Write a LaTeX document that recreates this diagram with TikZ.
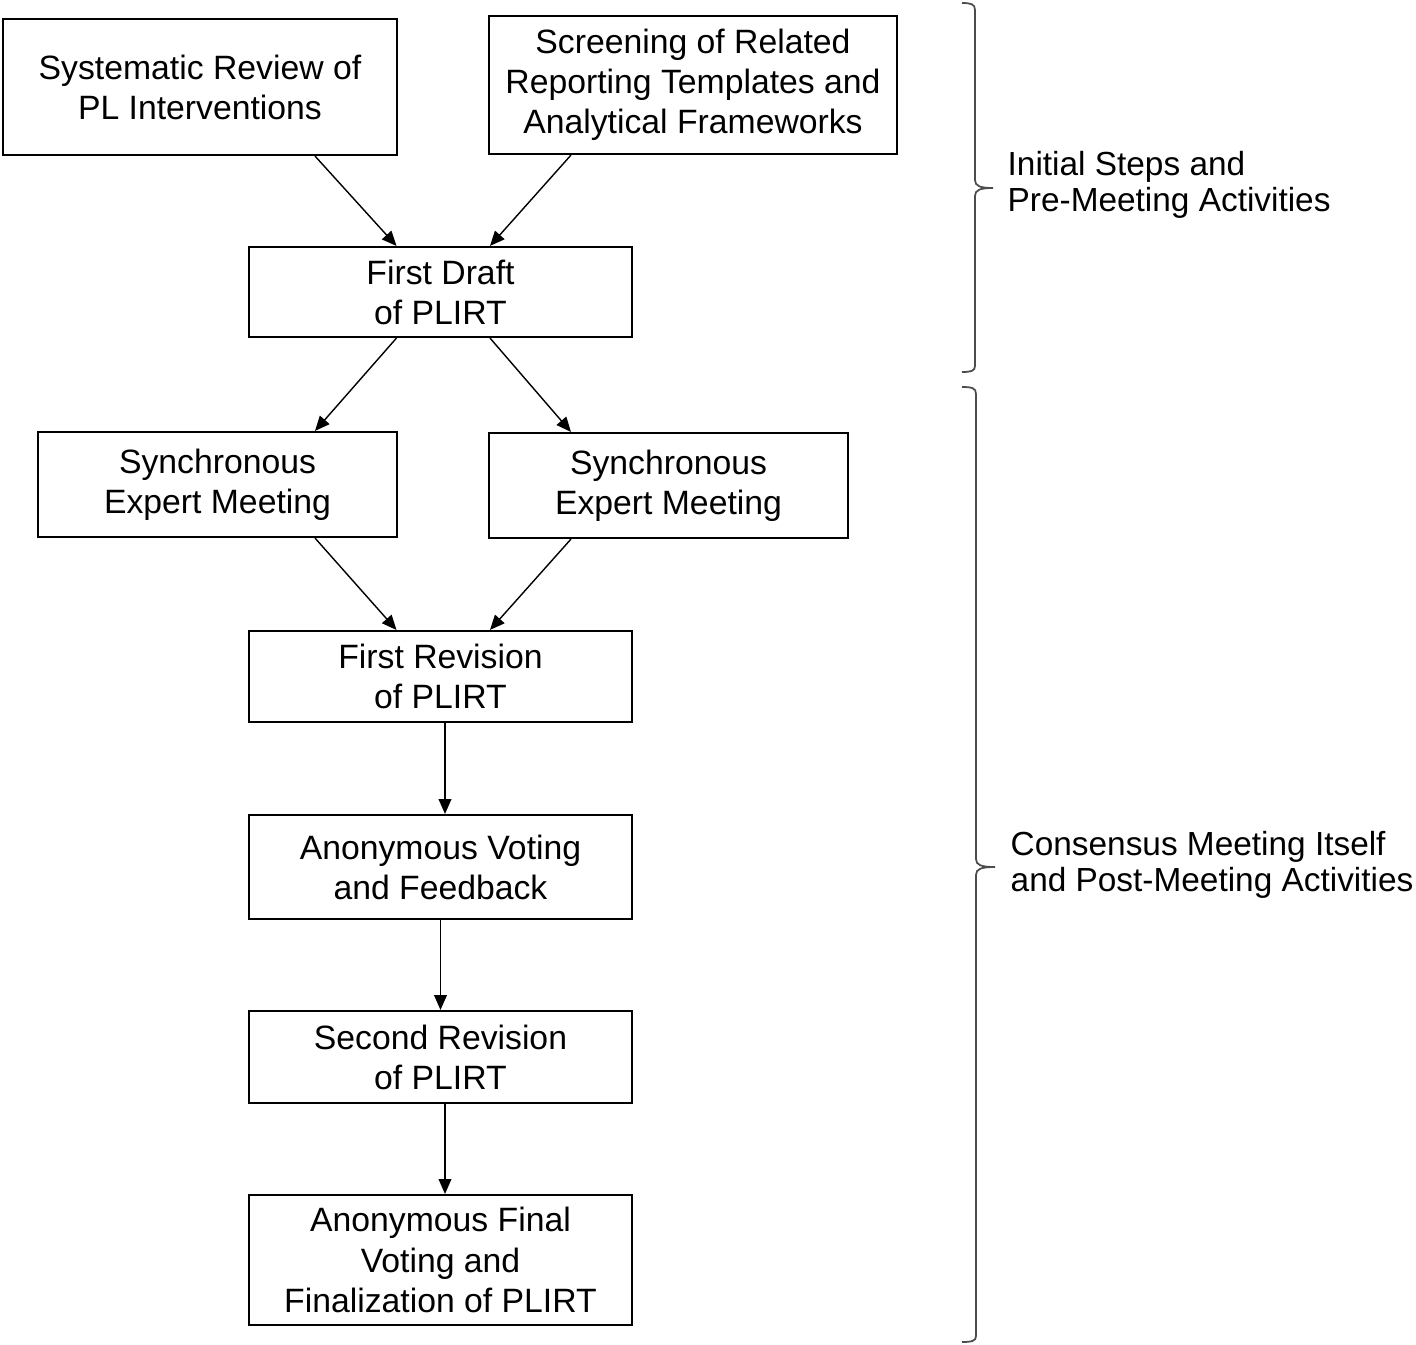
\documentclass[tikz,border=0pt]{standalone}
\usepackage{fontspec}
\setmainfont{Liberation Sans}
\usepackage{tikz}
\usetikzlibrary{calc,arrows.meta}

\begin{document}
\begin{tikzpicture}
        % Styles for the boxes, arrows and braces
        \tikzstyle{stepbox}=[draw, line width=0.6pt, align=center, inner sep=0pt, font=\fontsize{9.6}{11.4}\selectfont];
        \tikzstyle{arr}=[line width=0.4pt, -{Triangle[length=4.2pt,width=3.6pt]}];
        \tikzstyle{phase brace}=[draw=black!70, line width=0.5pt];
        \tikzstyle{phase label}=[align=left, anchor=west, inner sep=0pt, font=\fontsize{9.5}{10.2}\selectfont];

        % Fix the size of the picture
        \useasboundingbox (0,0) rectangle (14.16,-13.45);

        % Pre-meeting boxes
        \node[stepbox, minimum width=3.94cm, minimum height=1.36cm] (review) at (2.00,-0.87) {Systematic Review of\\PL Interventions};
        \node[stepbox, minimum width=4.08cm, minimum height=1.38cm] (screen) at (6.93,-0.85) {Screening of Related\\Reporting Templates and\\Analytical Frameworks};
        \node[stepbox, minimum width=3.83cm, minimum height=0.90cm] (draft) at (4.405,-2.92) {First Draft\\of PLIRT};

        % Expert meetings
        \node[stepbox, minimum width=3.59cm, minimum height=1.05cm] (meetL) at (2.175,-4.845) {Synchronous\\Expert Meeting};
        \node[stepbox, minimum width=3.59cm, minimum height=1.05cm] (meetR) at (6.685,-4.855) {Synchronous\\Expert Meeting};

        % Revisions and voting
        \node[stepbox, minimum width=3.83cm, minimum height=0.91cm] (rev1) at (4.405,-6.765) {First Revision\\of PLIRT};
        \node[stepbox, minimum width=3.83cm, minimum height=1.04cm] (vote) at (4.405,-8.67) {Anonymous Voting\\and Feedback};
        \node[stepbox, minimum width=3.83cm, minimum height=0.92cm] (rev2) at (4.405,-10.57) {Second Revision\\of PLIRT};
        \node[stepbox, minimum width=3.83cm, minimum height=1.30cm] (final) at (4.405,-12.60) {Anonymous Final\\Voting and\\Finalization of PLIRT};

        % Arrows into the first draft
        \draw[arr] ($(review.south)+(1.15,0)$) -- ($(draft.north)+(-0.44,0)$);
        \draw[arr] ($(screen.south)+(-1.22,0)$) -- ($(draft.north)+(0.495,0)$);

        % Arrows to and from the meetings
        \draw[arr] ($(draft.south)+(-0.44,0)$) -- ($(meetL.north)+(0.975,0)$);
        \draw[arr] ($(draft.south)+(0.495,0)$) -- ($(meetR.north)+(-0.975,0)$);
        \draw[arr] ($(meetL.south)+(0.975,0)$) -- ($(rev1.north)+(-0.44,0)$);
        \draw[arr] ($(meetR.south)+(-0.975,0)$) -- ($(rev1.north)+(0.495,0)$);

        % Straight arrows down the chain
        \draw[arr] ($(rev1.south)+(0.045,0)$) -- ($(vote.north)+(0.045,0)$);
        \draw[arr] (vote.south) -- (rev2.north);
        \draw[arr] ($(rev2.south)+(0.045,0)$) -- ($(final.north)+(0.045,0)$);

        % Brace for the first phase
        \draw[phase brace] (9.62,-0.03) .. controls (9.71,-0.03) and (9.75,-0.04) .. (9.75,-0.10)
            -- (9.75,-1.80) .. controls (9.75,-1.86) and (9.80,-1.88) .. (9.93,-1.88)
            .. controls (9.80,-1.88) and (9.75,-1.90) .. (9.75,-1.96)
            -- (9.75,-3.66) .. controls (9.75,-3.71) and (9.71,-3.72) .. (9.62,-3.72);

        % Brace for the second phase
        \draw[phase brace] (9.62,-3.87) .. controls (9.72,-3.87) and (9.76,-3.88) .. (9.76,-3.94)
            -- (9.76,-8.59) .. controls (9.76,-8.65) and (9.81,-8.67) .. (9.95,-8.67)
            .. controls (9.81,-8.67) and (9.76,-8.69) .. (9.76,-8.75)
            -- (9.76,-13.36) .. controls (9.76,-13.41) and (9.72,-13.42) .. (9.62,-13.42);

        % Phase labels
        \node[phase label] (phase1) at (10.07,-1.85) {Initial Steps and\\Pre-Meeting Activities};
        \node[phase label] (phase2) at (10.10,-8.65) {Consensus Meeting Itself\\and Post-Meeting Activities};

    \end{tikzpicture}
\end{document}
